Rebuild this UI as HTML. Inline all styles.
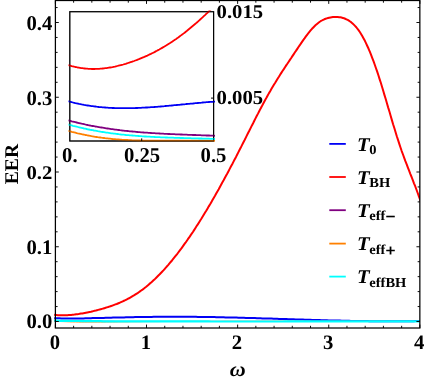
<!DOCTYPE html>
<html><head><meta charset="utf-8"><title>EER plot</title>
<style>
html,body{margin:0;padding:0;background:#fff;}
body{width:426px;height:381px;overflow:hidden;}
svg{display:block;will-change:transform;}
text{font-family:"Liberation Serif",serif;font-weight:bold;fill:#000;text-rendering:geometricPrecision;}
.it{font-style:italic;}
</style></head><body>
<svg width="426" height="381" viewBox="0 0 426 381">
<rect x="0" y="0" width="426" height="381" fill="#fff"/>
<clipPath id="cm"><rect x="54.199999999999996" y="0.5" width="365.65000000000003" height="327.5"/></clipPath>
<g clip-path="url(#cm)" fill="none" stroke-width="2.0" stroke-linejoin="round">
<path d="M54.0,318.2 L55.8,318.2 L57.7,318.3 L59.5,318.3 L61.4,318.4 L63.2,318.4 L65.1,318.4 L66.9,318.5 L68.8,318.5 L70.6,318.5 L72.4,318.5 L74.3,318.5 L76.1,318.5 L78.0,318.4 L79.8,318.4 L81.7,318.4 L83.5,318.4 L85.4,318.3 L87.2,318.3 L89.0,318.2 L90.9,318.2 L92.7,318.1 L94.6,318.1 L96.4,318.1 L98.3,318.0 L100.1,318.0 L101.9,317.9 L103.8,317.9 L105.6,317.8 L107.5,317.8 L109.3,317.7 L111.2,317.7 L113.0,317.6 L114.9,317.6 L116.7,317.5 L118.5,317.5 L120.4,317.4 L122.2,317.4 L124.1,317.4 L125.9,317.3 L127.8,317.3 L129.6,317.2 L131.5,317.2 L133.3,317.2 L135.1,317.1 L137.0,317.1 L138.8,317.1 L140.7,317.0 L142.5,317.0 L144.4,317.0 L146.2,316.9 L148.1,316.9 L149.9,316.9 L151.7,316.9 L153.6,316.8 L155.4,316.8 L157.3,316.8 L159.1,316.8 L161.0,316.8 L162.8,316.8 L164.7,316.7 L166.5,316.7 L168.3,316.7 L170.2,316.7 L172.0,316.7 L173.9,316.7 L175.7,316.7 L177.6,316.7 L179.4,316.7 L181.3,316.7 L183.1,316.7 L184.9,316.8 L186.8,316.8 L188.6,316.8 L190.5,316.8 L192.3,316.8 L194.2,316.8 L196.0,316.8 L197.8,316.9 L199.7,316.9 L201.5,316.9 L203.4,316.9 L205.2,317.0 L207.1,317.0 L208.9,317.0 L210.8,317.1 L212.6,317.1 L214.4,317.1 L216.3,317.2 L218.1,317.2 L220.0,317.2 L221.8,317.3 L223.7,317.3 L225.5,317.4 L227.4,317.4 L229.2,317.4 L231.0,317.5 L232.9,317.5 L234.7,317.6 L236.6,317.6 L238.4,317.7 L240.3,317.7 L242.1,317.8 L244.0,317.8 L245.8,317.9 L247.6,317.9 L249.5,318.0 L251.3,318.0 L253.2,318.1 L255.0,318.1 L256.9,318.2 L258.7,318.3 L260.6,318.3 L262.4,318.4 L264.2,318.4 L266.1,318.5 L267.9,318.5 L269.8,318.6 L271.6,318.6 L273.5,318.7 L275.3,318.8 L277.2,318.8 L279.0,318.9 L280.8,318.9 L282.7,319.0 L284.5,319.1 L286.4,319.1 L288.2,319.2 L290.1,319.2 L291.9,319.3 L293.7,319.3 L295.6,319.4 L297.4,319.5 L299.3,319.5 L301.1,319.6 L303.0,319.6 L304.8,319.7 L306.7,319.7 L308.5,319.8 L310.3,319.8 L312.2,319.9 L314.0,320.0 L315.9,320.0 L317.7,320.1 L319.6,320.1 L321.4,320.2 L323.3,320.2 L325.1,320.3 L326.9,320.3 L328.8,320.4 L330.6,320.4 L332.5,320.5 L334.3,320.5 L336.2,320.5 L338.0,320.6 L339.9,320.6 L341.7,320.7 L343.5,320.7 L345.4,320.8 L347.2,320.8 L349.1,320.8 L350.9,320.9 L352.8,320.9 L354.6,320.9 L356.5,321.0 L358.3,321.0 L360.1,321.0 L362.0,321.1 L363.8,321.1 L365.7,321.1 L367.5,321.1 L369.4,321.2 L371.2,321.2 L373.1,321.2 L374.9,321.2 L376.7,321.2 L378.6,321.2 L380.4,321.3 L382.3,321.3 L384.1,321.3 L386.0,321.3 L387.8,321.3 L389.6,321.3 L391.5,321.3 L393.3,321.3 L395.2,321.3 L397.0,321.3 L398.9,321.3 L400.7,321.3 L402.6,321.3 L404.4,321.3 L406.2,321.2 L408.1,321.2 L409.9,321.2 L411.8,321.2 L413.6,321.2 L415.5,321.1 L417.3,321.1 L419.2,321.1 L421.0,321.0" stroke="#0000f5"/>
<path d="M54.0,314.84 L55.2,314.98 L56.5,315.09 L57.7,315.18 L58.9,315.25 L60.1,315.29 L61.4,315.32 L62.6,315.32 L63.8,315.31 L65.1,315.28 L66.3,315.23 L67.5,315.17 L68.7,315.09 L70.0,314.99 L71.2,314.89 L72.4,314.76 L73.7,314.63 L74.9,314.48 L76.1,314.33 L77.3,314.16 L78.6,313.99 L79.8,313.80 L81.0,313.60 L82.3,313.40 L83.5,313.18 L84.7,312.95 L85.9,312.72 L87.2,312.47 L88.4,312.22 L89.6,311.96 L90.9,311.69 L92.1,311.41 L93.3,311.12 L94.5,310.82 L95.8,310.52 L97.0,310.21 L98.2,309.89 L99.5,309.56 L100.7,309.22 L101.9,308.88 L103.2,308.53 L104.4,308.17 L105.6,307.80 L106.8,307.42 L108.1,307.03 L109.3,306.63 L110.5,306.22 L111.8,305.79 L113.0,305.36 L114.2,304.90 L115.4,304.44 L116.7,303.96 L117.9,303.47 L119.1,302.96 L120.4,302.43 L121.6,301.89 L122.8,301.33 L124.0,300.75 L125.3,300.16 L126.5,299.55 L127.7,298.91 L129.0,298.26 L130.2,297.59 L131.4,296.89 L132.6,296.17 L133.9,295.44 L135.1,294.67 L136.3,293.89 L137.6,293.08 L138.8,292.25 L140.0,291.39 L141.2,290.51 L142.5,289.60 L143.7,288.67 L144.9,287.71 L146.2,286.72 L147.4,285.71 L148.6,284.68 L149.8,283.62 L151.1,282.54 L152.3,281.43 L153.5,280.30 L154.8,279.14 L156.0,277.96 L157.2,276.76 L158.4,275.53 L159.7,274.28 L160.9,273.01 L162.1,271.71 L163.4,270.39 L164.6,269.04 L165.8,267.67 L167.0,266.28 L168.3,264.87 L169.5,263.43 L170.7,261.97 L172.0,260.48 L173.2,258.98 L174.4,257.45 L175.6,255.90 L176.9,254.33 L178.1,252.74 L179.3,251.12 L180.6,249.48 L181.8,247.82 L183.0,246.14 L184.2,244.44 L185.5,242.72 L186.7,240.97 L187.9,239.21 L189.2,237.43 L190.4,235.62 L191.6,233.80 L192.9,231.96 L194.1,230.09 L195.3,228.21 L196.5,226.31 L197.8,224.40 L199.0,222.46 L200.2,220.51 L201.5,218.54 L202.7,216.55 L203.9,214.54 L205.1,212.52 L206.4,210.48 L207.6,208.43 L208.8,206.36 L210.1,204.27 L211.3,202.17 L212.5,200.05 L213.7,197.91 L215.0,195.77 L216.2,193.60 L217.4,191.43 L218.7,189.23 L219.9,187.03 L221.1,184.81 L222.3,182.58 L223.6,180.33 L224.8,178.07 L226.0,175.80 L227.3,173.51 L228.5,171.21 L229.7,168.90 L230.9,166.58 L232.2,164.24 L233.4,161.90 L234.6,159.54 L235.9,157.17 L237.1,154.79 L238.3,152.40 L239.5,149.99 L240.8,147.58 L242.0,145.16 L243.2,142.73 L244.5,140.29 L245.7,137.85 L246.9,135.41 L248.1,132.97 L249.4,130.53 L250.6,128.09 L251.8,125.66 L253.1,123.23 L254.3,120.82 L255.5,118.41 L256.7,116.01 L258.0,113.63 L259.2,111.27 L260.4,108.92 L261.7,106.59 L262.9,104.28 L264.1,101.99 L265.3,99.73 L266.6,97.50 L267.8,95.29 L269.0,93.11 L270.3,90.97 L271.5,88.85 L272.7,86.77 L273.9,84.72 L275.2,82.69 L276.4,80.69 L277.6,78.71 L278.9,76.75 L280.1,74.82 L281.3,72.90 L282.5,71.00 L283.8,69.11 L285.0,67.24 L286.2,65.38 L287.5,63.52 L288.7,61.68 L289.9,59.84 L291.2,58.00 L292.4,56.17 L293.6,54.33 L294.8,52.50 L296.1,50.66 L297.3,48.83 L298.5,47.00 L299.8,45.18 L301.0,43.38 L302.2,41.60 L303.4,39.85 L304.7,38.13 L305.9,36.45 L307.1,34.82 L308.4,33.23 L309.6,31.70 L310.8,30.23 L312.0,28.82 L313.3,27.48 L314.5,26.22 L315.7,25.04 L317.0,23.95 L318.2,22.95 L319.4,22.04 L320.6,21.23 L321.9,20.50 L323.1,19.85 L324.3,19.28 L325.6,18.78 L326.8,18.36 L328.0,17.99 L329.2,17.69 L330.5,17.44 L331.7,17.25 L332.9,17.10 L334.2,17.00 L335.4,16.95 L336.6,16.96 L337.8,17.02 L339.1,17.14 L340.3,17.33 L341.5,17.58 L342.8,17.91 L344.0,18.30 L345.2,18.78 L346.4,19.33 L347.7,19.97 L348.9,20.69 L350.1,21.51 L351.4,22.43 L352.6,23.46 L353.8,24.60 L355.0,25.86 L356.3,27.25 L357.5,28.77 L358.7,30.42 L360.0,32.22 L361.2,34.16 L362.4,36.25 L363.6,38.48 L364.9,40.85 L366.1,43.36 L367.3,46.00 L368.6,48.77 L369.8,51.67 L371.0,54.70 L372.2,57.85 L373.5,61.11 L374.7,64.50 L375.9,67.99 L377.2,71.60 L378.4,75.31 L379.6,79.12 L380.9,83.02 L382.1,87.00 L383.3,91.04 L384.5,95.14 L385.8,99.27 L387.0,103.43 L388.2,107.61 L389.5,111.78 L390.7,115.95 L391.9,120.10 L393.1,124.22 L394.4,128.28 L395.6,132.29 L396.8,136.23 L398.1,140.08 L399.3,143.84 L400.5,147.50 L401.7,151.04 L403.0,154.49 L404.2,157.85 L405.4,161.15 L406.7,164.38 L407.9,167.57 L409.1,170.73 L410.3,173.87 L411.6,177.00 L412.8,180.14 L414.0,183.30 L415.3,186.49 L416.5,189.73 L417.7,193.02 L418.9,196.38 L420.2,199.83 L421.4,203.37" stroke="#ff0000"/>
<path d="M54.0,320.4 L57.1,320.5 L60.2,320.6 L63.3,320.7 L66.3,320.8 L69.4,320.9 L72.5,321.0 L75.6,321.0 L78.7,321.1 L81.8,321.1 L84.8,321.1 L87.9,321.2 L91.0,321.2 L94.1,321.2 L97.2,321.3 L100.3,321.3 L103.3,321.3 L106.4,321.3 L109.5,321.3 L112.6,321.3 L115.7,321.4 L118.8,321.4 L121.8,321.4 L124.9,321.4 L128.0,321.4 L131.1,321.4 L134.2,321.4 L137.3,321.4 L140.4,321.4 L143.4,321.4 L146.5,321.4 L149.6,321.4 L152.7,321.4 L155.8,321.4 L158.9,321.4 L161.9,321.4 L165.0,321.4 L168.1,321.4 L171.2,321.4 L174.3,321.4 L177.4,321.4 L180.4,321.4 L183.5,321.4 L186.6,321.4 L189.7,321.4 L192.8,321.4 L195.9,321.4 L198.9,321.4 L202.0,321.4 L205.1,321.4 L208.2,321.4 L211.3,321.4 L214.4,321.4 L217.5,321.4 L220.5,321.4 L223.6,321.4 L226.7,321.4 L229.8,321.4 L232.9,321.4 L236.0,321.4 L239.0,321.4 L242.1,321.4 L245.2,321.4 L248.3,321.4 L251.4,321.4 L254.5,321.4 L257.5,321.4 L260.6,321.4 L263.7,321.4 L266.8,321.4 L269.9,321.4 L273.0,321.4 L276.1,321.4 L279.1,321.4 L282.2,321.4 L285.3,321.4 L288.4,321.4 L291.5,321.4 L294.6,321.4 L297.6,321.4 L300.7,321.4 L303.8,321.4 L306.9,321.4 L310.0,321.4 L313.1,321.4 L316.1,321.4 L319.2,321.4 L322.3,321.4 L325.4,321.4 L328.5,321.4 L331.6,321.4 L334.6,321.4 L337.7,321.4 L340.8,321.4 L343.9,321.4 L347.0,321.4 L350.1,321.4 L353.2,321.4 L356.2,321.4 L359.3,321.4 L362.4,321.4 L365.5,321.4 L368.6,321.4 L371.7,321.4 L374.7,321.4 L377.8,321.4 L380.9,321.4 L384.0,321.4 L387.1,321.4 L390.2,321.4 L393.2,321.4 L396.3,321.4 L399.4,321.4 L402.5,321.4 L405.6,321.4 L408.7,321.4 L411.7,321.4 L414.8,321.4 L417.9,321.4 L421.0,321.4" stroke="#800080" stroke-width="1.0"/>
<path d="M54.0,321.3 L57.1,321.4 L60.2,321.5 L63.3,321.6 L66.3,321.7 L69.4,321.8 L72.5,321.9 L75.6,321.9 L78.7,322.0 L81.8,322.0 L84.8,322.0 L87.9,322.0 L91.0,322.0 L94.1,322.0 L97.2,322.0 L100.3,322.0 L103.3,322.0 L106.4,321.9 L109.5,321.9 L112.6,321.9 L115.7,321.9 L118.8,321.8 L121.8,321.8 L124.9,321.8 L128.0,321.8 L131.1,321.7 L134.2,321.7 L137.3,321.7 L140.4,321.7 L143.4,321.6 L146.5,321.6 L149.6,321.6 L152.7,321.6 L155.8,321.6 L158.9,321.6 L161.9,321.5 L165.0,321.5 L168.1,321.5 L171.2,321.5 L174.3,321.5 L177.4,321.5 L180.4,321.5 L183.5,321.4 L186.6,321.4 L189.7,321.4 L192.8,321.4 L195.9,321.4 L198.9,321.4 L202.0,321.4 L205.1,321.4 L208.2,321.4 L211.3,321.4 L214.4,321.4 L217.5,321.4 L220.5,321.4 L223.6,321.3 L226.7,321.3 L229.8,321.3 L232.9,321.3 L236.0,321.3 L239.0,321.3 L242.1,321.3 L245.2,321.3 L248.3,321.3 L251.4,321.3 L254.5,321.3 L257.5,321.3 L260.6,321.3 L263.7,321.3 L266.8,321.3 L269.9,321.3 L273.0,321.3 L276.1,321.3 L279.1,321.3 L282.2,321.3 L285.3,321.3 L288.4,321.3 L291.5,321.3 L294.6,321.3 L297.6,321.3 L300.7,321.3 L303.8,321.3 L306.9,321.3 L310.0,321.3 L313.1,321.3 L316.1,321.3 L319.2,321.3 L322.3,321.3 L325.4,321.3 L328.5,321.3 L331.6,321.3 L334.6,321.3 L337.7,321.3 L340.8,321.3 L343.9,321.3 L347.0,321.3 L350.1,321.3 L353.2,321.3 L356.2,321.3 L359.3,321.3 L362.4,321.3 L365.5,321.3 L368.6,321.3 L371.7,321.3 L374.7,321.3 L377.8,321.3 L380.9,321.3 L384.0,321.4 L387.1,321.4 L390.2,321.4 L393.2,321.4 L396.3,321.4 L399.4,321.4 L402.5,321.4 L405.6,321.4 L408.7,321.4 L411.7,321.4 L414.8,321.4 L417.9,321.4 L421.0,321.4" stroke="#ff8000" stroke-width="1.0"/>
<path d="M54.0,320.7 L57.1,320.7 L60.2,320.8 L63.3,320.8 L66.3,320.9 L69.4,320.9 L72.5,321.0 L75.6,321.0 L78.7,321.0 L81.8,321.1 L84.8,321.1 L87.9,321.1 L91.0,321.2 L94.1,321.2 L97.2,321.2 L100.3,321.2 L103.3,321.3 L106.4,321.3 L109.5,321.3 L112.6,321.3 L115.7,321.3 L118.8,321.3 L121.8,321.3 L124.9,321.4 L128.0,321.4 L131.1,321.4 L134.2,321.4 L137.3,321.4 L140.4,321.4 L143.4,321.4 L146.5,321.4 L149.6,321.4 L152.7,321.4 L155.8,321.4 L158.9,321.4 L161.9,321.4 L165.0,321.4 L168.1,321.4 L171.2,321.4 L174.3,321.4 L177.4,321.4 L180.4,321.4 L183.5,321.4 L186.6,321.4 L189.7,321.4 L192.8,321.4 L195.9,321.4 L198.9,321.4 L202.0,321.4 L205.1,321.4 L208.2,321.4 L211.3,321.5 L214.4,321.5 L217.5,321.5 L220.5,321.5 L223.6,321.5 L226.7,321.5 L229.8,321.5 L232.9,321.5 L236.0,321.5 L239.0,321.5 L242.1,321.5 L245.2,321.5 L248.3,321.5 L251.4,321.5 L254.5,321.5 L257.5,321.5 L260.6,321.5 L263.7,321.5 L266.8,321.5 L269.9,321.5 L273.0,321.5 L276.1,321.5 L279.1,321.5 L282.2,321.5 L285.3,321.4 L288.4,321.4 L291.5,321.4 L294.6,321.4 L297.6,321.4 L300.7,321.4 L303.8,321.4 L306.9,321.4 L310.0,321.4 L313.1,321.4 L316.1,321.4 L319.2,321.4 L322.3,321.4 L325.4,321.4 L328.5,321.4 L331.6,321.4 L334.6,321.4 L337.7,321.4 L340.8,321.4 L343.9,321.4 L347.0,321.4 L350.1,321.4 L353.2,321.4 L356.2,321.4 L359.3,321.4 L362.4,321.4 L365.5,321.4 L368.6,321.4 L371.7,321.4 L374.7,321.4 L377.8,321.4 L380.9,321.4 L384.0,321.4 L387.1,321.4 L390.2,321.4 L393.2,321.4 L396.3,321.4 L399.4,321.4 L402.5,321.4 L405.6,321.4 L408.7,321.4 L411.7,321.4 L414.8,321.4 L417.9,321.4 L421.0,321.4" stroke="#00ffff" stroke-width="2.2"/>
</g>
<path d="M55.40,328.0 v-3.4 M55.40,0.5 v3.4 M73.62,328.0 v-2.2 M73.62,0.5 v2.2 M91.84,328.0 v-2.2 M91.84,0.5 v2.2 M110.07,328.0 v-2.2 M110.07,0.5 v2.2 M128.29,328.0 v-2.2 M128.29,0.5 v2.2 M146.51,328.0 v-3.4 M146.51,0.5 v3.4 M164.74,328.0 v-2.2 M164.74,0.5 v2.2 M182.96,328.0 v-2.2 M182.96,0.5 v2.2 M201.18,328.0 v-2.2 M201.18,0.5 v2.2 M219.40,328.0 v-2.2 M219.40,0.5 v2.2 M237.63,328.0 v-3.4 M237.63,0.5 v3.4 M255.85,328.0 v-2.2 M255.85,0.5 v2.2 M274.07,328.0 v-2.2 M274.07,0.5 v2.2 M292.29,328.0 v-2.2 M292.29,0.5 v2.2 M310.52,328.0 v-2.2 M310.52,0.5 v2.2 M328.74,328.0 v-3.4 M328.74,0.5 v3.4 M346.96,328.0 v-2.2 M346.96,0.5 v2.2 M365.18,328.0 v-2.2 M365.18,0.5 v2.2 M383.41,328.0 v-2.2 M383.41,0.5 v2.2 M401.63,328.0 v-2.2 M401.63,0.5 v2.2 M419.85,328.0 v-3.4 M419.85,0.5 v3.4 M55.4,321.50 h3.4 M419.85,321.50 h-3.4 M55.4,306.55 h2.2 M419.85,306.55 h-2.2 M55.4,291.60 h2.2 M419.85,291.60 h-2.2 M55.4,276.65 h2.2 M419.85,276.65 h-2.2 M55.4,261.70 h2.2 M419.85,261.70 h-2.2 M55.4,246.75 h3.4 M419.85,246.75 h-3.4 M55.4,231.80 h2.2 M419.85,231.80 h-2.2 M55.4,216.85 h2.2 M419.85,216.85 h-2.2 M55.4,201.90 h2.2 M419.85,201.90 h-2.2 M55.4,186.95 h2.2 M419.85,186.95 h-2.2 M55.4,172.00 h3.4 M419.85,172.00 h-3.4 M55.4,157.05 h2.2 M419.85,157.05 h-2.2 M55.4,142.10 h2.2 M419.85,142.10 h-2.2 M55.4,127.15 h2.2 M419.85,127.15 h-2.2 M55.4,112.20 h2.2 M419.85,112.20 h-2.2 M55.4,97.25 h3.4 M419.85,97.25 h-3.4 M55.4,82.30 h2.2 M419.85,82.30 h-2.2 M55.4,67.35 h2.2 M419.85,67.35 h-2.2 M55.4,52.40 h2.2 M419.85,52.40 h-2.2 M55.4,37.45 h2.2 M419.85,37.45 h-2.2 M55.4,22.50 h3.4 M419.85,22.50 h-3.4 M55.4,7.55 h2.2 M419.85,7.55 h-2.2" stroke="#000" stroke-width="0.95" fill="none"/>
<rect x="55.4" y="0.5" width="364.45000000000005" height="327.5" fill="none" stroke="#000" stroke-width="1.25"/>
<text transform="translate(52.40,29.50) scale(1.067,1.085)" font-size="19.4" text-anchor="end">0.4</text>
<text transform="translate(52.40,104.65) scale(1.067,1.08)" font-size="19.4" text-anchor="end">0.3</text>
<text transform="translate(52.40,179.00) scale(1.067,1.0)" font-size="19.4" text-anchor="end">0.2</text>
<text transform="translate(52.40,253.55) scale(1.067,1.07)" font-size="19.4" text-anchor="end">0.1</text>
<text transform="translate(52.40,328.20) scale(1.067,1.075)" font-size="19.4" text-anchor="end">0.0</text>
<text transform="translate(54.80,348.55) scale(1.067,1.06)" font-size="19.4" text-anchor="middle">0</text>
<text transform="translate(145.91,348.55) scale(1.067,1.06)" font-size="19.4" text-anchor="middle">1</text>
<text transform="translate(237.03,348.55) scale(1.067,1.06)" font-size="19.4" text-anchor="middle">2</text>
<text transform="translate(328.14,348.55) scale(1.067,1.06)" font-size="19.4" text-anchor="middle">3</text>
<text transform="translate(419.25,348.55) scale(1.067,1.06)" font-size="19.4" text-anchor="middle">4</text>
<text transform="translate(237.60,375.70) scale(1.067,1.0)" font-size="20.6" text-anchor="middle" class="it">ω</text>
<text transform="translate(18.4,164.1) rotate(-90) scale(1.012,1)" font-size="19.4" text-anchor="middle">EER</text>
<rect x="69.8" y="11.7" width="143.8" height="129.3" fill="#fff" stroke="none"/>
<clipPath id="ci"><rect x="68.5" y="10.5" width="146.5" height="131.3"/></clipPath>
<rect x="69.8" y="11.7" width="143.8" height="129.3" fill="none" stroke="#000" stroke-width="1.15"/>
<g clip-path="url(#ci)" fill="none" stroke-width="1.8" stroke-linejoin="round">
<path d="M68.0,101.2 L69.2,101.5 L70.5,101.8 L71.7,102.2 L72.9,102.5 L74.2,102.8 L75.4,103.1 L76.7,103.3 L77.9,103.6 L79.1,103.9 L80.4,104.1 L81.6,104.4 L82.8,104.6 L84.1,104.9 L85.3,105.1 L86.6,105.3 L87.8,105.5 L89.0,105.7 L90.3,105.9 L91.5,106.1 L92.7,106.2 L94.0,106.4 L95.2,106.5 L96.5,106.7 L97.7,106.8 L98.9,107.0 L100.2,107.1 L101.4,107.2 L102.6,107.3 L103.9,107.4 L105.1,107.5 L106.3,107.6 L107.6,107.7 L108.8,107.8 L110.1,107.8 L111.3,107.9 L112.5,108.0 L113.8,108.0 L115.0,108.1 L116.2,108.1 L117.5,108.1 L118.7,108.2 L120.0,108.2 L121.2,108.2 L122.4,108.2 L123.7,108.2 L124.9,108.2 L126.1,108.2 L127.4,108.2 L128.6,108.2 L129.8,108.2 L131.1,108.1 L132.3,108.1 L133.6,108.1 L134.8,108.1 L136.0,108.0 L137.3,108.0 L138.5,107.9 L139.7,107.9 L141.0,107.8 L142.2,107.7 L143.5,107.7 L144.7,107.6 L145.9,107.5 L147.2,107.5 L148.4,107.4 L149.6,107.3 L150.9,107.2 L152.1,107.1 L153.4,107.1 L154.6,107.0 L155.8,106.9 L157.1,106.8 L158.3,106.7 L159.5,106.6 L160.8,106.5 L162.0,106.4 L163.2,106.3 L164.5,106.2 L165.7,106.0 L167.0,105.9 L168.2,105.8 L169.4,105.7 L170.7,105.6 L171.9,105.5 L173.1,105.4 L174.4,105.2 L175.6,105.1 L176.9,105.0 L178.1,104.9 L179.3,104.8 L180.6,104.6 L181.8,104.5 L183.0,104.4 L184.3,104.3 L185.5,104.2 L186.7,104.0 L188.0,103.9 L189.2,103.8 L190.5,103.7 L191.7,103.6 L192.9,103.5 L194.2,103.3 L195.4,103.2 L196.6,103.1 L197.9,103.0 L199.1,102.9 L200.4,102.8 L201.6,102.7 L202.8,102.5 L204.1,102.4 L205.3,102.3 L206.5,102.2 L207.8,102.1 L209.0,102.0 L210.3,101.9 L211.5,101.8 L212.7,101.8 L214.0,101.7 L215.2,101.6" stroke="#0000f5"/>
<path d="M68.0,65.0 L69.2,65.4 L70.4,65.7 L71.6,66.1 L72.8,66.4 L74.0,66.7 L75.2,67.0 L76.4,67.2 L77.6,67.5 L78.8,67.7 L80.0,67.9 L81.2,68.1 L82.4,68.2 L83.6,68.4 L84.8,68.5 L86.0,68.6 L87.2,68.7 L88.4,68.8 L89.6,68.9 L90.8,68.9 L92.0,69.0 L93.2,69.0 L94.4,69.0 L95.6,68.9 L96.8,68.9 L98.0,68.8 L99.2,68.8 L100.4,68.7 L101.6,68.6 L102.8,68.5 L104.1,68.4 L105.3,68.2 L106.5,68.1 L107.7,67.9 L108.9,67.7 L110.1,67.5 L111.3,67.3 L112.5,67.1 L113.7,66.8 L114.9,66.6 L116.1,66.3 L117.3,66.0 L118.5,65.7 L119.7,65.4 L120.9,65.1 L122.1,64.8 L123.3,64.5 L124.5,64.1 L125.7,63.8 L126.9,63.4 L128.1,63.0 L129.3,62.6 L130.5,62.2 L131.7,61.8 L132.9,61.4 L134.1,61.0 L135.3,60.5 L136.5,60.1 L137.7,59.6 L138.9,59.2 L140.1,58.7 L141.3,58.2 L142.5,57.7 L143.7,57.2 L144.9,56.6 L146.1,56.1 L147.3,55.6 L148.5,55.0 L149.7,54.4 L150.9,53.9 L152.1,53.3 L153.3,52.7 L154.5,52.1 L155.7,51.4 L156.9,50.8 L158.1,50.1 L159.3,49.5 L160.5,48.8 L161.7,48.1 L162.9,47.4 L164.1,46.7 L165.3,46.0 L166.5,45.3 L167.7,44.5 L168.9,43.7 L170.1,43.0 L171.3,42.2 L172.5,41.4 L173.7,40.6 L174.9,39.7 L176.2,38.9 L177.4,38.1 L178.6,37.2 L179.8,36.3 L181.0,35.4 L182.2,34.5 L183.4,33.6 L184.6,32.7 L185.8,31.7 L187.0,30.8 L188.2,29.8 L189.4,28.8 L190.6,27.8 L191.8,26.8 L193.0,25.8 L194.2,24.8 L195.4,23.8 L196.6,22.7 L197.8,21.7 L199.0,20.6 L200.2,19.5 L201.4,18.4 L202.6,17.3 L203.8,16.2 L205.0,15.1 L206.2,13.9 L207.4,12.8 L208.6,11.6 L209.8,10.4 L211.0,9.3" stroke="#ff0000"/>
<path d="M68.0,120.3 L69.2,120.6 L70.5,120.9 L71.7,121.3 L72.9,121.6 L74.2,121.9 L75.4,122.2 L76.7,122.5 L77.9,122.8 L79.1,123.1 L80.4,123.4 L81.6,123.7 L82.8,123.9 L84.1,124.2 L85.3,124.5 L86.6,124.8 L87.8,125.0 L89.0,125.3 L90.3,125.5 L91.5,125.8 L92.7,126.0 L94.0,126.2 L95.2,126.5 L96.5,126.7 L97.7,126.9 L98.9,127.1 L100.2,127.3 L101.4,127.5 L102.6,127.7 L103.9,127.9 L105.1,128.1 L106.3,128.3 L107.6,128.5 L108.8,128.7 L110.1,128.9 L111.3,129.1 L112.5,129.2 L113.8,129.4 L115.0,129.6 L116.2,129.7 L117.5,129.9 L118.7,130.0 L120.0,130.2 L121.2,130.3 L122.4,130.5 L123.7,130.6 L124.9,130.8 L126.1,130.9 L127.4,131.0 L128.6,131.1 L129.8,131.3 L131.1,131.4 L132.3,131.5 L133.6,131.6 L134.8,131.7 L136.0,131.9 L137.3,132.0 L138.5,132.1 L139.7,132.2 L141.0,132.3 L142.2,132.4 L143.5,132.5 L144.7,132.6 L145.9,132.6 L147.2,132.7 L148.4,132.8 L149.6,132.9 L150.9,133.0 L152.1,133.1 L153.4,133.2 L154.6,133.2 L155.8,133.3 L157.1,133.4 L158.3,133.4 L159.5,133.5 L160.8,133.6 L162.0,133.6 L163.2,133.7 L164.5,133.8 L165.7,133.8 L167.0,133.9 L168.2,134.0 L169.4,134.0 L170.7,134.1 L171.9,134.1 L173.1,134.2 L174.4,134.2 L175.6,134.3 L176.9,134.3 L178.1,134.4 L179.3,134.4 L180.6,134.5 L181.8,134.5 L183.0,134.6 L184.3,134.6 L185.5,134.7 L186.7,134.7 L188.0,134.8 L189.2,134.8 L190.5,134.9 L191.7,134.9 L192.9,135.0 L194.2,135.0 L195.4,135.0 L196.6,135.1 L197.9,135.1 L199.1,135.2 L200.4,135.2 L201.6,135.3 L202.8,135.3 L204.1,135.4 L205.3,135.4 L206.5,135.5 L207.8,135.5 L209.0,135.5 L210.3,135.6 L211.5,135.6 L212.7,135.7 L214.0,135.7 L215.2,135.8" stroke="#800080"/>
<path d="M68.0,130.7 L69.2,131.1 L70.5,131.4 L71.7,131.8 L72.9,132.1 L74.2,132.4 L75.4,132.7 L76.7,133.1 L77.9,133.4 L79.1,133.6 L80.4,133.9 L81.6,134.2 L82.8,134.5 L84.1,134.7 L85.3,135.0 L86.6,135.2 L87.8,135.5 L89.0,135.7 L90.3,135.9 L91.5,136.2 L92.7,136.4 L94.0,136.6 L95.2,136.8 L96.5,137.0 L97.7,137.2 L98.9,137.3 L100.2,137.5 L101.4,137.7 L102.6,137.8 L103.9,138.0 L105.1,138.2 L106.3,138.3 L107.6,138.4 L108.8,138.6 L110.1,138.7 L111.3,138.8 L112.5,139.0 L113.8,139.1 L115.0,139.2 L116.2,139.3 L117.5,139.4 L118.7,139.5 L120.0,139.6 L121.2,139.7 L122.4,139.8 L123.7,139.8 L124.9,139.9 L126.1,140.0 L127.4,140.0 L128.6,140.1 L129.8,140.2 L131.1,140.2 L132.3,140.3 L133.6,140.3 L134.8,140.4 L136.0,140.4 L137.3,140.5 L138.5,140.5 L139.7,140.5 L141.0,140.6 L142.2,140.6 L143.5,140.6 L144.7,140.6 L145.9,140.7 L147.2,140.7 L148.4,140.7 L149.6,140.7 L150.9,140.7 L152.1,140.7 L153.4,140.7 L154.6,140.7 L155.8,140.7 L157.1,140.7 L158.3,140.7 L159.5,140.7 L160.8,140.7 L162.0,140.7 L163.2,140.7 L164.5,140.7 L165.7,140.7 L167.0,140.7 L168.2,140.7 L169.4,140.7 L170.7,140.7 L171.9,140.7 L173.1,140.7 L174.4,140.7 L175.6,140.7 L176.9,140.7 L178.1,140.6 L179.3,140.6 L180.6,140.6 L181.8,140.6 L183.0,140.6 L184.3,140.6 L185.5,140.6 L186.7,140.6 L188.0,140.6 L189.2,140.6 L190.5,140.6 L191.7,140.6 L192.9,140.6 L194.2,140.6 L195.4,140.6 L196.6,140.6 L197.9,140.6 L199.1,140.6 L200.4,140.6 L201.6,140.6 L202.8,140.6 L204.1,140.6 L205.3,140.7 L206.5,140.7 L207.8,140.7 L209.0,140.7 L210.3,140.8 L211.5,140.8 L212.7,140.8 L214.0,140.8 L215.2,140.9" stroke="#ff8000"/>
<path d="M68.0,124.4 L69.2,124.8 L70.5,125.1 L71.7,125.4 L72.9,125.8 L74.2,126.1 L75.4,126.4 L76.7,126.7 L77.9,127.0 L79.1,127.3 L80.4,127.6 L81.6,127.9 L82.8,128.2 L84.1,128.5 L85.3,128.7 L86.6,129.0 L87.8,129.3 L89.0,129.5 L90.3,129.8 L91.5,130.0 L92.7,130.2 L94.0,130.5 L95.2,130.7 L96.5,130.9 L97.7,131.2 L98.9,131.4 L100.2,131.6 L101.4,131.8 L102.6,132.0 L103.9,132.2 L105.1,132.4 L106.3,132.6 L107.6,132.7 L108.8,132.9 L110.1,133.1 L111.3,133.3 L112.5,133.4 L113.8,133.6 L115.0,133.7 L116.2,133.9 L117.5,134.0 L118.7,134.2 L120.0,134.3 L121.2,134.5 L122.4,134.6 L123.7,134.7 L124.9,134.8 L126.1,135.0 L127.4,135.1 L128.6,135.2 L129.8,135.3 L131.1,135.4 L132.3,135.5 L133.6,135.6 L134.8,135.7 L136.0,135.8 L137.3,135.9 L138.5,136.0 L139.7,136.1 L141.0,136.2 L142.2,136.3 L143.5,136.4 L144.7,136.5 L145.9,136.5 L147.2,136.6 L148.4,136.7 L149.6,136.7 L150.9,136.8 L152.1,136.9 L153.4,136.9 L154.6,137.0 L155.8,137.1 L157.1,137.1 L158.3,137.2 L159.5,137.2 L160.8,137.3 L162.0,137.3 L163.2,137.4 L164.5,137.4 L165.7,137.5 L167.0,137.5 L168.2,137.6 L169.4,137.6 L170.7,137.7 L171.9,137.7 L173.1,137.7 L174.4,137.8 L175.6,137.8 L176.9,137.8 L178.1,137.9 L179.3,137.9 L180.6,138.0 L181.8,138.0 L183.0,138.0 L184.3,138.1 L185.5,138.1 L186.7,138.1 L188.0,138.2 L189.2,138.2 L190.5,138.2 L191.7,138.3 L192.9,138.3 L194.2,138.3 L195.4,138.4 L196.6,138.4 L197.9,138.4 L199.1,138.5 L200.4,138.5 L201.6,138.5 L202.8,138.6 L204.1,138.6 L205.3,138.6 L206.5,138.7 L207.8,138.7 L209.0,138.7 L210.3,138.8 L211.5,138.8 L212.7,138.9 L214.0,138.9 L215.2,139.0" stroke="#00ffff"/>
</g>
<rect x="69.8" y="11.7" width="143.8" height="129.3" fill="none" stroke="#000" stroke-opacity="0.5" stroke-width="1.15"/>
<path d="M100,141.0 H213.6" stroke="#000" stroke-opacity="0.3" stroke-width="1.15" fill="none"/>
<path d="M141.7,141.0 v-2.6 M213.6,98.1 h-2.6" stroke="#000" stroke-width="1" fill="none"/>
<text transform="translate(216.60,18.40) scale(1.067,1.0)" font-size="19.4">0.015</text>
<text transform="translate(216.60,104.30) scale(1.067,1.03)" font-size="19.4">0.005</text>
<text transform="translate(69.80,162.20) scale(1.067,1.09)" font-size="19.4" text-anchor="middle">0.</text>
<text transform="translate(142.00,162.20) scale(1.067,1.09)" font-size="19.4" text-anchor="middle">0.25</text>
<text transform="translate(213.50,162.20) scale(1.067,1.09)" font-size="19.4" text-anchor="middle">0.5</text>
<path d="M329.3,143.9 H345.8" stroke="#0000f5" stroke-width="1.8" fill="none"/>
<text transform="translate(356.90,150.50) scale(1.067,1.0)" font-size="19.4" class="it">T</text>
<text transform="translate(369.30,154.10) scale(1.067,1.0)" font-size="13.6">0</text>
<path d="M329.3,177 H345.8" stroke="#ff0000" stroke-width="1.8" fill="none"/>
<text transform="translate(356.90,183.60) scale(1.067,1.0)" font-size="19.4" class="it">T</text>
<text transform="translate(369.30,187.20) scale(1.067,1.0)" font-size="13.6">BH</text>
<path d="M329.3,210.2 H345.8" stroke="#800080" stroke-width="1.8" fill="none"/>
<text transform="translate(356.90,216.80) scale(1.067,1.0)" font-size="19.4" class="it">T</text>
<text transform="translate(369.30,220.40) scale(1.067,1.0)" font-size="13.6">eff<tspan font-size="16.5" dy="1.9" stroke="#000" stroke-width="0.35">−</tspan></text>
<path d="M329.3,243.6 H345.8" stroke="#ff8000" stroke-width="1.8" fill="none"/>
<text transform="translate(356.90,250.20) scale(1.067,1.0)" font-size="19.4" class="it">T</text>
<text transform="translate(369.30,253.80) scale(1.067,1.0)" font-size="13.6">eff<tspan font-size="16.5" dy="1.9" stroke="#000" stroke-width="0.35">+</tspan></text>
<path d="M329.3,276.6 H345.8" stroke="#00ffff" stroke-width="1.8" fill="none"/>
<text transform="translate(356.90,283.20) scale(1.067,1.0)" font-size="19.4" class="it">T</text>
<text transform="translate(369.30,286.80) scale(1.067,1.0)" font-size="13.6">effBH</text>
</svg>
</body></html>
